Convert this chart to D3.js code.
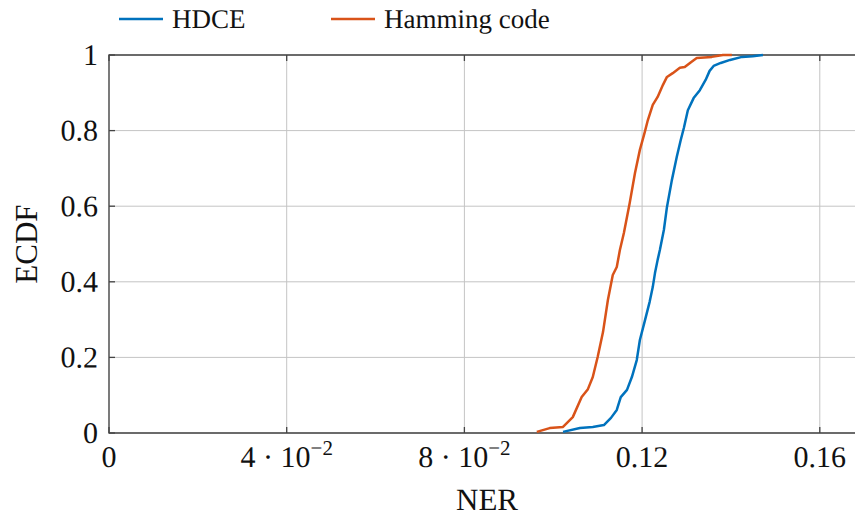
<!DOCTYPE html>
<html>
<head>
<meta charset="utf-8">
<script src="https://cdn.jsdelivr.net/npm/d3@7"></script>
<style>
  html, body { margin: 0; padding: 0; background: #fff; }
  svg { display: block; }
</style>
</head>
<body>
<svg id="chart" width="855" height="517"></svg>
<script>
// ---- data ----
const hdceNER  = [0.1022,0.1060,0.1089,0.1114,0.1130,0.1143,0.1152,0.1166,0.1177,0.1188,0.1195,0.1206,0.1217,0.1224,0.1229,0.1235,0.1240,0.1249,0.1256,0.1267,0.1278,0.1287,0.1294,0.1303,0.1316,0.1330,0.1343,0.1352,0.1361,0.1377,0.1398,0.1425,0.1449,0.1472];
const hdceECDF = [0.003,0.013,0.016,0.021,0.040,0.061,0.095,0.114,0.148,0.193,0.246,0.296,0.347,0.386,0.423,0.458,0.484,0.537,0.598,0.669,0.730,0.775,0.807,0.854,0.886,0.907,0.934,0.958,0.971,0.979,0.987,0.995,0.997,1.0];
const hamNER   = [0.0963,0.0992,0.1022,0.1044,0.1064,0.1078,0.1089,0.1100,0.1112,0.1123,0.1134,0.1143,0.1150,0.1159,0.1172,0.1184,0.1195,0.1206,0.1213,0.1224,0.1235,0.1247,0.1256,0.1269,0.1285,0.1296,0.1310,0.1323,0.1357,0.1382,0.1402];
const hamECDF  = [0.003,0.013,0.016,0.042,0.095,0.116,0.148,0.201,0.267,0.352,0.418,0.439,0.484,0.529,0.608,0.688,0.749,0.796,0.828,0.868,0.889,0.921,0.942,0.952,0.966,0.968,0.981,0.992,0.995,1.0,1.0];
const xTicks = [0, 0.04, 0.08, 0.12, 0.16];
const xTickLabels = [["0",""],["4 \u00b7 10","\u22122"],["8 \u00b7 10","\u22122"],["0.12",""],["0.16",""]];
const yTicks = [0, 0.2, 0.4, 0.6, 0.8, 1];
const yTickLabels = ["0","0.2","0.4","0.6","0.8","1"];
const seriesNames = ["HDCE", "Hamming code"];
const seriesColors = ["#0072BD", "#D95319"];

// ---- layout ----
const svg = d3.select("#chart");
const L = 109, R = 854, T = 55, B = 433;
const x = d3.scaleLinear().domain([0, 0.1677]).range([L, R]);
const y = d3.scaleLinear().domain([0, 1]).range([B, T]);
const fstyle = (px) => `font-family:'Liberation Serif';font-size:${px}px;fill:#111`;
// place text at (px,py) via a transform (tiny rotation keeps outline rendering)
const placeText = (px, py, size) => svg.append("text")
  .attr("transform", `translate(${px},${py}) rotate(0.05)`).attr("style", fstyle(size));

// grid
const grid = svg.append("g").attr("stroke", "#c4c4c4").attr("stroke-width", 1);
xTicks.forEach(t => grid.append("line").attr("x1", x(t)).attr("x2", x(t)).attr("y1", T).attr("y2", B));
yTicks.forEach(t => grid.append("line").attr("x1", L).attr("x2", R + 1).attr("y1", y(t)).attr("y2", y(t)));

// axis frame
const ax = svg.append("g").attr("stroke", "#444").attr("stroke-width", 1.3).attr("fill", "none");
ax.append("path").attr("d", `M${R+1},${T}H${L}V${B}H${R+1}`);
xTicks.forEach(t => {
  ax.append("line").attr("x1", x(t)).attr("x2", x(t)).attr("y1", B).attr("y2", B - 6);
  ax.append("line").attr("x1", x(t)).attr("x2", x(t)).attr("y1", T).attr("y2", T + 6);
});
yTicks.forEach(t => ax.append("line").attr("x1", L).attr("x2", L + 6).attr("y1", y(t)).attr("y2", y(t)));

// tick labels
xTicks.forEach((t, i) => {
  const tx = placeText(x(t), 467, 30).attr("text-anchor", "middle");
  tx.append("tspan").text(xTickLabels[i][0]);
  if (xTickLabels[i][1]) tx.append("tspan").attr("dy", -12).attr("style", "font-size:21px").text(xTickLabels[i][1]);
});
yTicks.forEach((t, i) => {
  placeText(98, y(t) + 10, 30).attr("text-anchor", "end").text(yTickLabels[i]);
});

// axis labels
placeText(487, 510, 31).attr("text-anchor", "middle").text("NER");
svg.append("text").attr("transform", "translate(37,244) rotate(-90)").attr("text-anchor", "middle").attr("style", fstyle(31)).text("ECDF");

// lines
const line = d3.line().x(d => x(d[0])).y(d => y(d[1]));
const series = [d3.zip(hdceNER, hdceECDF), d3.zip(hamNER, hamECDF)];
series.forEach((s, i) => {
  svg.append("path").datum(s).attr("d", line).attr("fill", "none")
    .attr("stroke", seriesColors[i]).attr("stroke-width", 2.5).attr("stroke-linejoin", "round");
});

// legend
const legX = [119, 331];
seriesNames.forEach((n, i) => {
  svg.append("line").attr("x1", legX[i]).attr("x2", legX[i] + 44).attr("y1", 19).attr("y2", 19)
    .attr("stroke", seriesColors[i]).attr("stroke-width", 2.5);
  placeText(legX[i] + 53, 28, 27).text(n);
});
</script>
</body>
</html>
